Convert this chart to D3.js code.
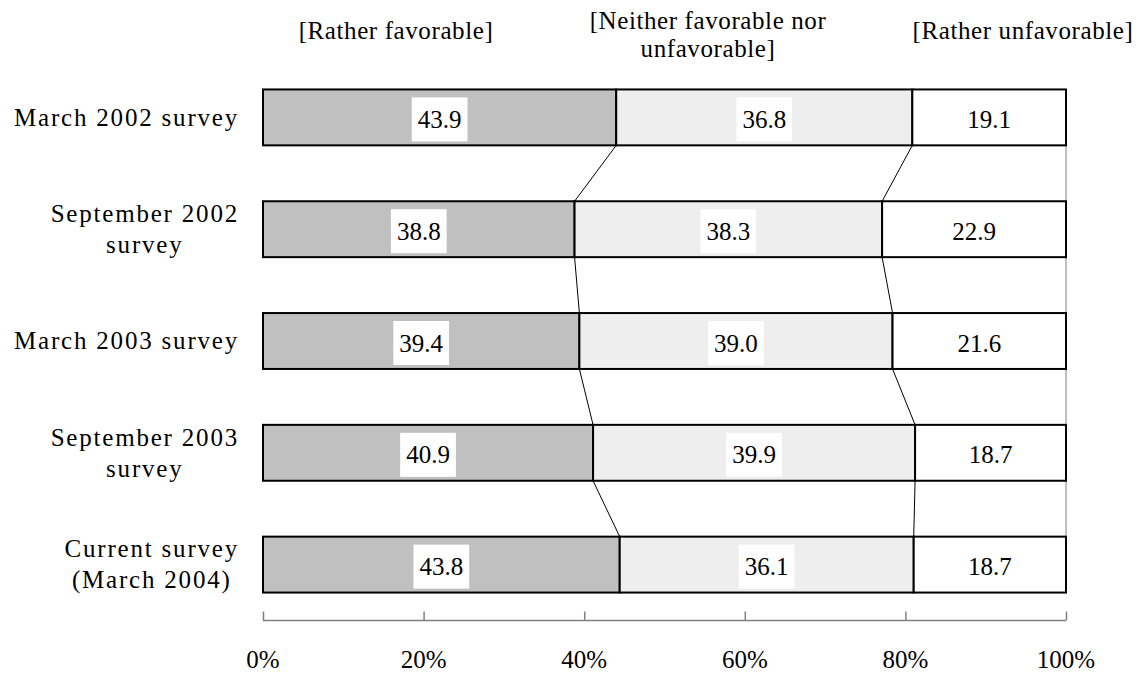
<!DOCTYPE html>
<html>
<head>
<meta charset="utf-8">
<script src="https://cdn.jsdelivr.net/npm/d3@7"></script>
<style>
  html, body { margin: 0; padding: 0; background: #ffffff; }
  svg { display: block; }
  text { font-family: "Liberation Serif", "Times New Roman", serif; fill: #000; }
</style>
</head>
<body>
<svg id="chart" width="1141" height="675"></svg>
<script>
// Survey rounds (rows, top to bottom)
const categories = [
  "March 2002 survey",
  "September 2002 survey",
  "March 2003 survey",
  "September 2003 survey",
  "Current survey (March 2004)"
];
// How each row label is broken over lines
const categoryLines = [
  ["March 2002 survey"],
  ["September 2002", "survey"],
  ["March 2003 survey"],
  ["September 2003", "survey"],
  ["Current survey", "(March 2004)"]
];

// Response shares (%)
const seriesKeys = ["favorable", "neither", "unfavorable"];
const favorable   = [43.9, 38.8, 39.4, 40.9, 43.8];
const neither     = [36.8, 38.3, 39.0, 39.9, 36.1];
const unfavorable = [19.1, 22.9, 21.6, 18.7, 18.7];

// Column headers above the bars
const seriesHeaders = [
  ["[Rather favorable]"],
  ["[Neither favorable nor", "unfavorable]"],
  ["[Rather unfavorable]"]
];

// Axis ticks (share of total)
const tickValues = [0, 0.2, 0.4, 0.6, 0.8, 1.0];
const tickLabels = ["0%", "20%", "40%", "60%", "80%", "100%"];

// ---- layout ----
const svg = d3.select("#chart");
const fontSize = 25;
const fills = { favorable: "#c0c0c0", neither: "#eeeeee", unfavorable: "#ffffff" };

const rows = categories.map((c, i) => ({
  category: c,
  favorable: favorable[i],
  neither: neither[i],
  unfavorable: unfavorable[i]
}));

// 100% stacked: each row is scaled to its own total
const stack = d3.stack().keys(seriesKeys).offset(d3.stackOffsetExpand)(rows);

const x = d3.scaleLinear().domain([0, 1]).range([263, 1066]);
const y = d3.scaleBand().domain(categories).range([61.5, 620.5])
  .paddingInner(0.5).paddingOuter(0.25);
const bw = y.bandwidth();

// ---- column headers ----
const headerX = [396, 708, 1023];
const headerBaselines = [[38.5], [29, 57], [38.5]];
seriesHeaders.forEach((lines, j) => {
  lines.forEach((line, k) => {
    svg.append("text")
      .attr("x", headerX[j])
      .attr("y", headerBaselines[j][k])
      .attr("text-anchor", "middle")
      .style("font-size", fontSize + "px")
      .style("letter-spacing", "0.6px")
      .text(line);
  });
});

// ---- series lines joining segment ends between neighbouring bars ----
const connectors = svg.append("g");
stack.forEach((layer, j) => {
  for (let i = 0; i < categories.length - 1; i++) {
    connectors.append("line")
      .attr("x1", x(layer[i][1]))
      .attr("y1", y(categories[i]) + bw)
      .attr("x2", x(layer[i + 1][1]))
      .attr("y2", y(categories[i + 1]))
      .attr("stroke", j === stack.length - 1 ? "#808080" : "#000")
      .attr("stroke-width", 1);
  }
});

// ---- bars ----
const barG = svg.append("g");
stack.forEach(layer => {
  barG.append("g").selectAll("rect")
    .data(layer)
    .join("rect")
    .attr("x", d => x(d[0]))
    .attr("y", d => y(d.data.category))
    .attr("width", d => x(d[1]) - x(d[0]))
    .attr("height", bw)
    .attr("fill", fills[layer.key])
    .attr("stroke", "#000")
    .attr("stroke-width", 2);
});

// ---- value labels on white boxes ----
const labelG = svg.append("g");
stack.forEach(layer => {
  layer.forEach(d => {
    const cx = (x(d[0]) + x(d[1])) / 2;
    const cy = y(d.data.category) + bw / 2 + 2;
    const g = labelG.append("g");
    const t = g.append("text")
      .attr("x", cx)
      .attr("y", cy + 8.5)
      .attr("text-anchor", "middle")
      .style("font-size", fontSize + "px")
      .text(d.data[layer.key].toFixed(1));
    const w = t.node().getComputedTextLength() + 12;
    g.insert("rect", "text")
      .attr("x", cx - w / 2)
      .attr("y", cy - 22)
      .attr("width", w)
      .attr("height", 44)
      .attr("fill", "#ffffff");
  });
});

// ---- row labels: lines centred within a block that is right-aligned ----
const catG = svg.append("g");
const blockRight = 239;
const lineGap = 31;
categories.forEach((c, i) => {
  const lines = categoryLines[i];
  const cy = y(c) + bw / 2;
  const g = catG.append("g");
  const texts = lines.map(line => g.append("text")
    .attr("text-anchor", "middle")
    .style("font-size", fontSize + "px")
    .style("letter-spacing", "1.8px")
    .text(line));
  const maxW = d3.max(texts, t => t.node().getComputedTextLength());
  const cx = blockRight - maxW / 2;
  const firstBaseline = cy + 8.25 - (lines.length - 1) * lineGap / 2;
  texts.forEach((t, k) => t.attr("x", cx).attr("y", firstBaseline + k * lineGap));
});

// ---- bottom axis ----
const axisY = 620.5;
const axis = d3.axisTop(x).tickValues(tickValues).tickSize(9).tickFormat("");
const axisG = svg.append("g").attr("transform", `translate(0,${axisY})`).call(axis);
axisG.select(".domain").attr("stroke", "#808080").attr("stroke-width", 1.5)
  .attr("d", `M${x(0)},0H${x(1)}`);
axisG.selectAll(".tick line").attr("stroke", "#808080").attr("stroke-width", 1.5);

svg.append("g").selectAll("text")
  .data(tickValues)
  .join("text")
  .attr("x", d => x(d))
  .attr("y", 668)
  .attr("text-anchor", "middle")
  .style("font-size", fontSize + "px")
  .text((d, i) => tickLabels[i]);
</script>
</body>
</html>
